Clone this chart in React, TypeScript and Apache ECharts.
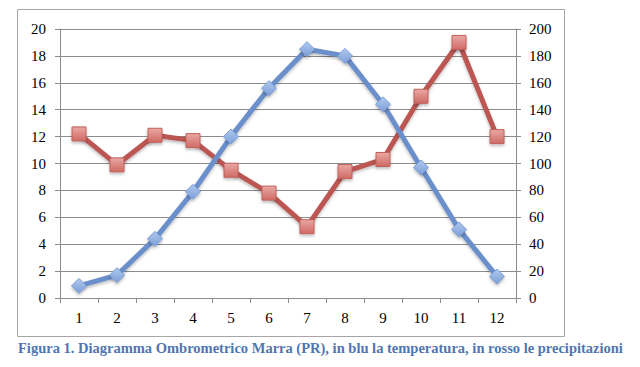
import React, { useEffect, useRef } from "react";
import * as echarts from "echarts";

const months = ["1", "2", "3", "4", "5", "6", "7", "8", "9", "10", "11", "12"];
const temperature = [0.9, 1.7, 4.4, 7.9, 12.0, 15.6, 18.5, 18.0, 14.4, 9.7, 5.1, 1.6];
const precipitation = [122, 99, 121, 117, 95, 78, 53, 94, 103, 150, 190, 120];
const caption =
  "Figura 1. Diagramma Ombrometrico Marra (PR), in blu la temperatura, in rosso le precipitazioni";

const FONT = "'Liberation Serif', 'DejaVu Serif', serif";

export default function App() {
  const ref = useRef<HTMLDivElement>(null);
  useEffect(() => {
    if (!ref.current) return;
    const chart = echarts.init(ref.current, null, { renderer: "svg" });
    const axisLabel = { color: "#000", fontFamily: FONT, fontSize: 15 };
    chart.setOption({
      animation: false,
      backgroundColor: "#fff",
      grid: { left: 60, right: 124, top: 29, bottom: 69 },
      graphic: [
        {
          type: "rect",
          shape: { x: 17.5, y: 9.5, width: 547, height: 327 },
          style: { fill: "none", stroke: "#a6a6a6", lineWidth: 1 },
          z: -1,
        },
        {
          type: "text",
          left: 18,
          top: 340,
          style: {
            text: caption,
            fill: "#4f76b0",
            font: `bold 14.5px ${FONT}`,
          },
        },
      ],
      xAxis: {
        type: "category",
        data: months,
        boundaryGap: true,
        axisLine: { lineStyle: { color: "#8c8c8c", width: 1 } },
        axisTick: { show: true, length: 5, lineStyle: { color: "#8c8c8c" } },
        axisLabel: { ...axisLabel, margin: 12 },
      },
      yAxis: [
        {
          type: "value",
          min: 0,
          max: 20,
          interval: 2,
          axisLine: { show: true, lineStyle: { color: "#8c8c8c" } },
          axisTick: { show: true, length: 5, lineStyle: { color: "#8c8c8c" } },
          splitLine: { lineStyle: { color: "#8c8c8c", width: 1 } },
          axisLabel: { ...axisLabel, margin: 14 },
        },
        {
          type: "value",
          min: 0,
          max: 200,
          interval: 20,
          position: "right",
          axisLine: { show: true, lineStyle: { color: "#8c8c8c" } },
          axisTick: { show: true, length: 5, lineStyle: { color: "#8c8c8c" } },
          splitLine: { show: false },
          axisLabel: { ...axisLabel, margin: 13 },
        },
      ],
      series: [
        {
          type: "line",
          name: "Temperatura",
          data: temperature,
          yAxisIndex: 0,
          symbol: "diamond",
          symbolSize: 15,
          lineStyle: {
            color: "#6a8fcb",
            width: 5,
            shadowColor: "rgba(0,0,0,0.25)",
            shadowBlur: 3,
            shadowOffsetY: 2,
          },
          itemStyle: {
            color: new echarts.graphic.LinearGradient(0, 0, 0, 1, [
              { offset: 0, color: "#b0c8ee" },
              { offset: 1, color: "#7c9fd8" },
            ]),
            borderColor: "#7c9fd8",
            borderWidth: 1,
            shadowColor: "rgba(0,0,0,0.25)",
            shadowBlur: 3,
            shadowOffsetY: 2,
          },
          z: 3,
        },
        {
          type: "line",
          name: "Precipitazioni",
          data: precipitation,
          yAxisIndex: 1,
          symbol: "rect",
          symbolSize: 14,
          lineStyle: {
            color: "#bb5652",
            width: 5,
            shadowColor: "rgba(0,0,0,0.25)",
            shadowBlur: 3,
            shadowOffsetY: 2,
          },
          itemStyle: {
            color: new echarts.graphic.LinearGradient(0, 0, 0, 1, [
              { offset: 0, color: "#eaa8a4" },
              { offset: 1, color: "#cf6a65" },
            ]),
            borderColor: "#c0605b",
            borderWidth: 1,
            shadowColor: "rgba(0,0,0,0.25)",
            shadowBlur: 3,
            shadowOffsetY: 2,
          },
          z: 2,
        },
      ],
    });
    return () => chart.dispose();
  }, []);
  return (
    <div
      ref={ref}
      style={{ position: "fixed", left: 0, top: 0, width: 640, height: 367 }}
    />
  );
}
